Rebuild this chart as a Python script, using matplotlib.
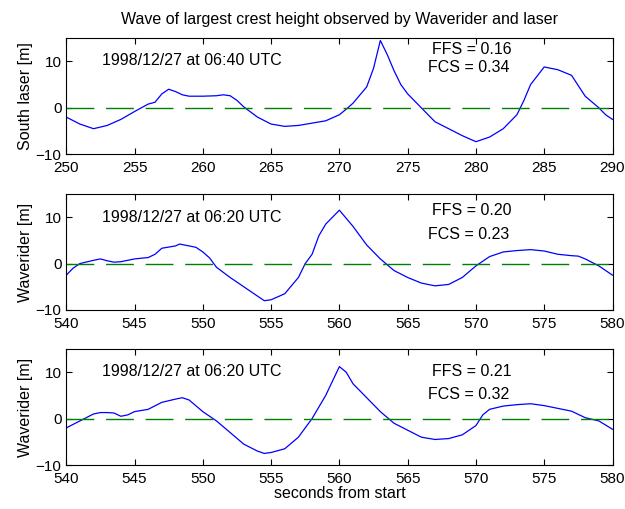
import numpy as np
import matplotlib.pyplot as plt

plt.rcParams['font.family'] = ['Liberation Sans', 'DejaVu Sans']
plt.rcParams['font.size'] = 11

# South laser, 1998/12/27 06:40 UTC
t_laser = [250, 251, 252, 253, 254, 255, 256, 256.5, 257, 257.5, 258, 258.5, 259, 260,
           261, 261.5, 262, 262.5, 263, 264, 265, 266, 267, 268, 269, 270, 270.5, 271, 272,
           272.5, 273, 273.5, 274, 274.5, 275, 276, 277, 278, 279, 280, 281, 282, 283,
           283.5, 284, 285, 285.5, 286, 287, 288, 289, 289.5, 290]
h_laser = [-2, -3.5, -4.5, -3.8, -2.5, -0.8, 0.8, 1.2, 3, 4, 3.5, 2.8, 2.5, 2.5,
           2.6, 2.8, 2.6, 1.6, 0.2, -2, -3.5, -4, -3.8, -3.3, -2.8, -1.5, -0.3, 1, 4.5,
           8.5, 14.5, 11.5, 8, 5, 3, 0, -3, -4.5, -6, -7.3, -6.3, -4.5, -1.5,
           1.5, 5, 8.8, 8.5, 8.2, 7, 2.5, 0, -1.5, -2.5]

# Waverider, 1998/12/27 06:20 UTC (two estimates)
t_wr1 = [540, 540.5, 541, 542, 542.5, 543, 543.5, 544, 545, 546, 546.5, 547, 548, 548.3,
         549, 549.5, 550, 550.5, 551, 552, 553, 554, 554.5, 555, 556, 557, 557.5, 558,
         558.5, 559, 560, 561, 562, 563, 564, 565, 566, 567, 568, 569, 570, 570.5, 571,
         572, 573, 574, 575, 576, 577, 577.5, 578, 579, 580]
h_wr1 = [-2.5, -1, 0, 0.7, 1, 0.6, 0.3, 0.4, 1.0, 1.3, 2, 3.3, 3.8, 4.2,
         3.8, 3.5, 2.5, 1.2, -0.8, -3, -5, -7, -8, -7.8, -6.5, -3, 0, 2,
         6, 8.5, 11.5, 8, 4, 1, -1.5, -3, -4.2, -4.8, -4.5, -3, -0.5, 0.5, 1.5,
         2.5, 2.8, 3, 2.7, 2, 1.7, 1.6, 1, -0.5, -2.5]

t_wr2 = [540, 541, 542, 542.5, 543, 543.5, 544, 544.5, 545, 546, 547, 548, 548.5, 549,
         550, 551, 552, 553, 554, 554.5, 555, 556, 557, 558, 559, 560, 560.5, 561,
         562, 563, 564, 565, 566, 567, 568, 569, 570, 570.5, 571, 572, 573, 574,
         575, 576, 577, 578, 579, 580]
h_wr2 = [-2, -0.5, 1, 1.3, 1.3, 1.2, 0.5, 0.8, 1.5, 2, 3.5, 4.2, 4.5, 4,
         1.5, -0.5, -3, -5.5, -7, -7.5, -7.3, -6.5, -4, 0, 5, 11.2, 10, 7.5,
         4.5, 1.5, -1, -2.5, -4, -4.5, -4.3, -3.5, -1.5, 0.8, 2, 2.7, 3, 3.2,
         2.8, 2.2, 1.6, 0.2, -0.5, -2.3]

dates = ['1998/12/27 at 06:40 UTC', '1998/12/27 at 06:20 UTC', '1998/12/27 at 06:20 UTC']
ffs = ['FFS = 0.16', 'FFS = 0.20', 'FFS = 0.21']
fcs = ['FCS = 0.34', 'FCS = 0.23', 'FCS = 0.32']
ylabels = ['South laser [m]', 'Waverider [m]', 'Waverider [m]']
series = [(t_laser, h_laser, (250, 290)), (t_wr1, h_wr1, (540, 580)), (t_wr2, h_wr2, (540, 580))]

# text heights (data units) per panel
date_y = [10.2, 10.0, 10.2]
ffs_y = [12.6, 11.5, 10.1]
fcs_y = [8.7, 6.3, 5.2]

fig = plt.figure(figsize=(6.25, 5.09), dpi=100)
bottoms = [0.697, 0.391, 0.0864]
for i, b in enumerate(bottoms):
    t, h, xl = series[i]
    ax = fig.add_axes([0.106, b, 0.874, 0.228])
    ax.plot(t, h, color='#0000ff', linewidth=0.9)
    ax.plot(xl, [0, 0], color='#008000', linestyle=(0, (20, 8.5)), linewidth=1.0)
    ax.set_xlim(xl)
    ax.set_ylim(-10, 15)
    ax.set_yticks([-10, 0, 10])
    ax.set_xticks(np.arange(xl[0], xl[1] + 1, 5))
    ax.tick_params(direction='in', top=True, right=True, length=4, labelsize=11)
    ax.tick_params(axis='x', pad=5)
    ax.set_ylabel(ylabels[i], fontsize=11.5, labelpad=2)
    x0 = xl[0]
    ax.text(x0 + 2.6, date_y[i], dates[i], fontsize=11.5, va='center')
    ax.text(x0 + 29.7, ffs_y[i], ffs[i], fontsize=11.5, va='center', ha='center')
    ax.text(x0 + 29.5, fcs_y[i], fcs[i], fontsize=11.5, va='center', ha='center')
    if i == 0:
        ax.set_title('Wave of largest crest height observed by Waverider and laser',
                     fontsize=11.5, pad=10)
    if i == 2:
        ax.set_xlabel('seconds from start', fontsize=11.5, labelpad=0)

fig.savefig('out.png', dpi=100)
